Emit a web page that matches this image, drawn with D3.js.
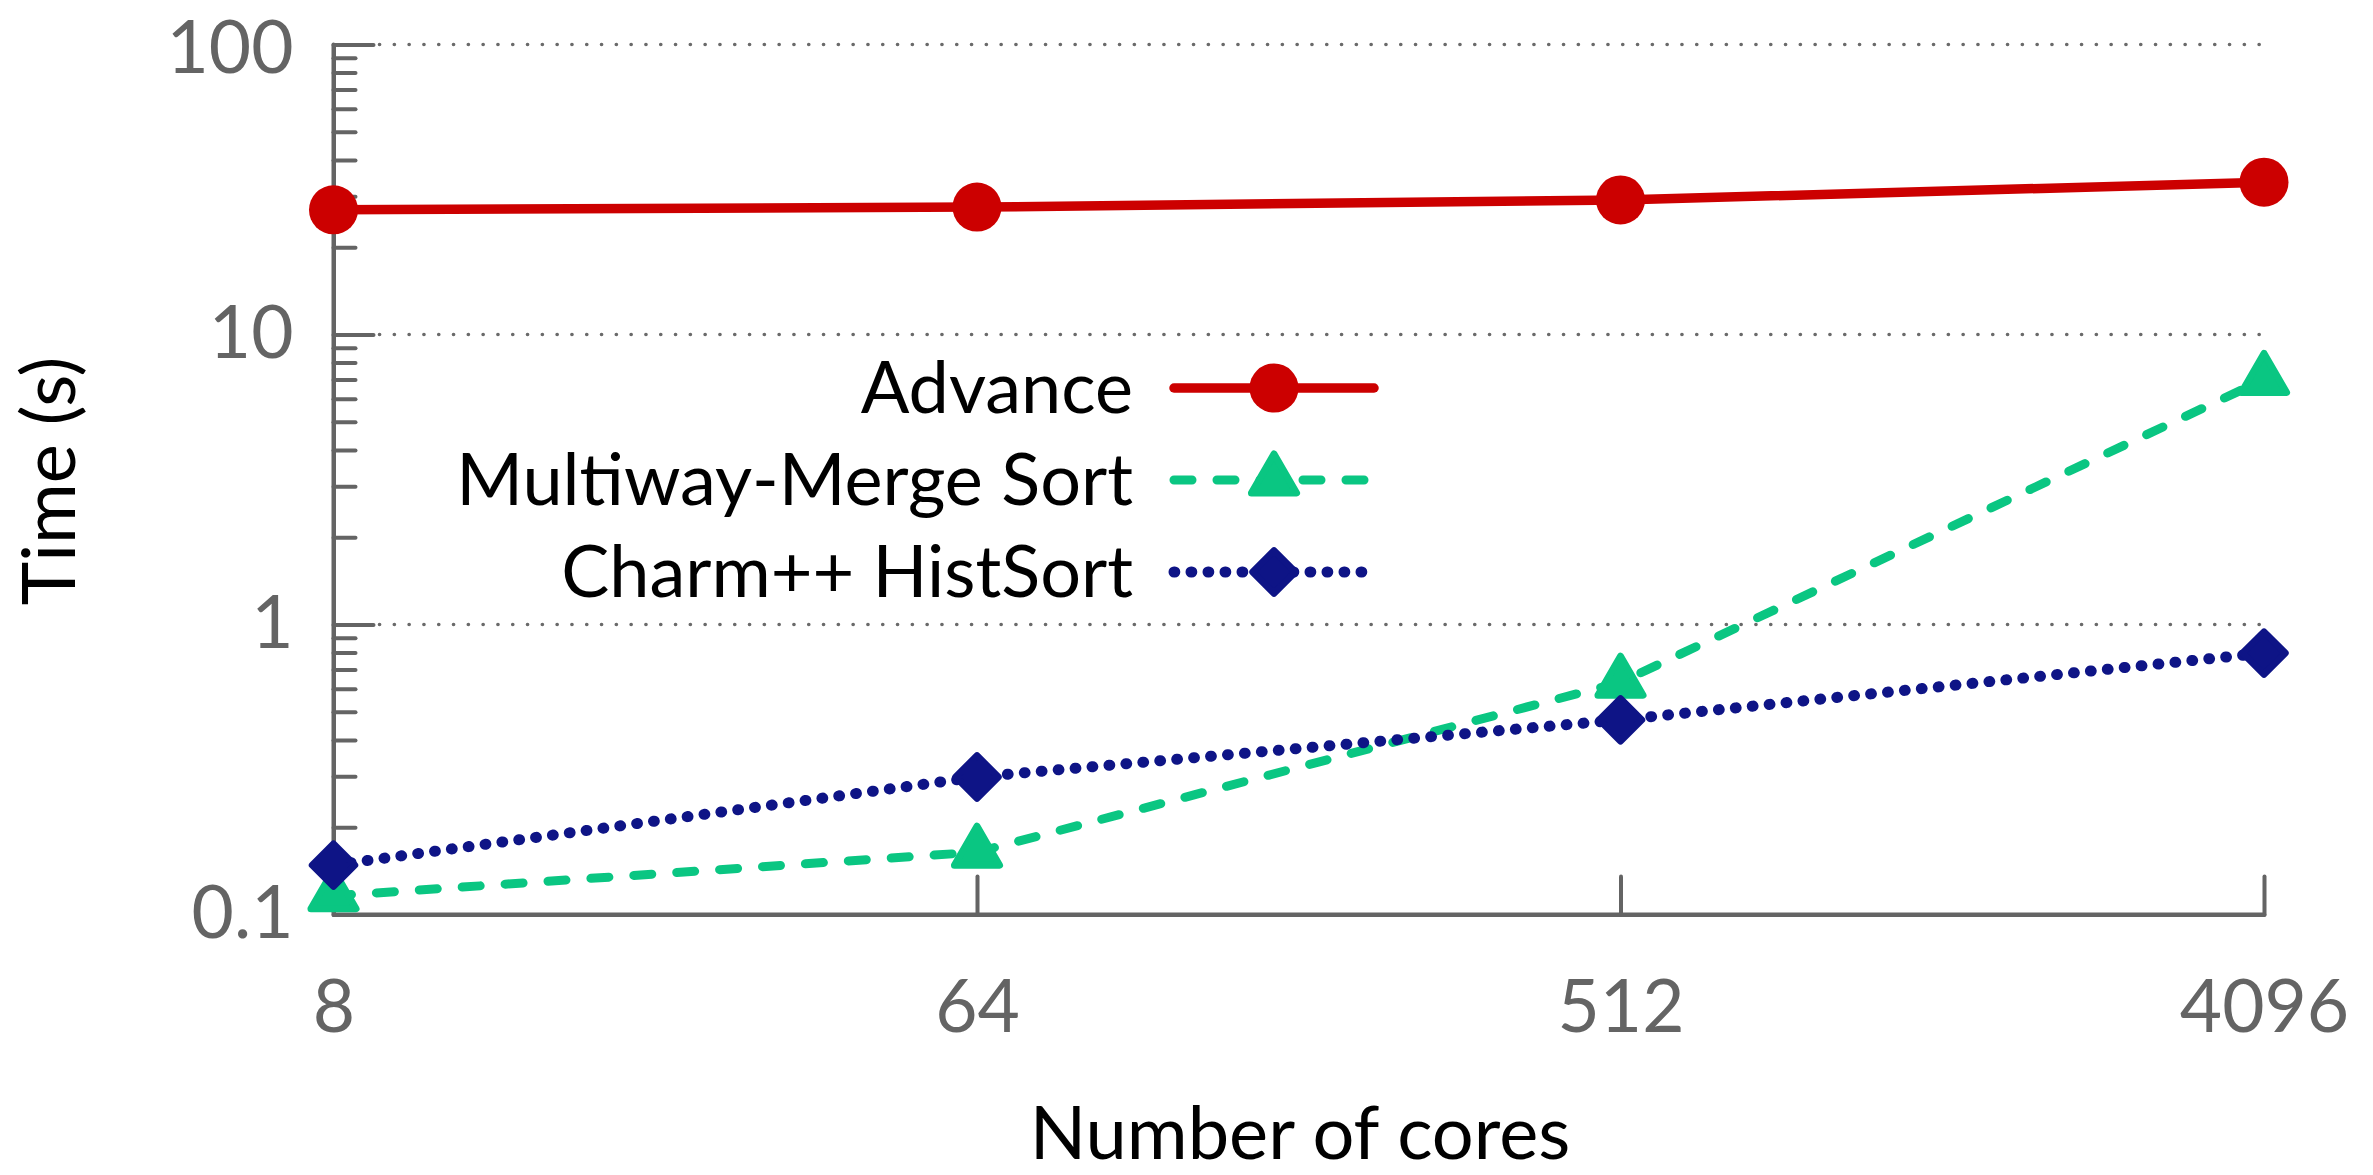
<!DOCTYPE html>
<html>
<head>
<meta charset="utf-8">
<script src="https://cdn.jsdelivr.net/npm/d3@7"></script>
<style>
  html, body { margin: 0; padding: 0; background: #fff; }
  svg { display: block; }
  text { font-family: Lato, "Open Sans", sans-serif; }
</style>
</head>
<body>
<svg id="chart" width="2373" height="1175"></svg>
<script>
// ---- data ----
const cores = [8, 64, 512, 4096];
const advance = [26.9, 27.5, 29.1, 33.5];
const multiwayMerge = [0.116, 0.164, 0.632, 7.0];
const charmHistSort = [0.148, 0.298, 0.469, 0.797];
const seriesNames = ["Advance", "Multiway-Merge Sort", "Charm++ HistSort"];
const yTickValues = [0.1, 1, 10, 100];
const yTickLabels = ["0.1", "1", "10", "100"];
const xTickLabels = ["8", "64", "512", "4096"];
const xTitle = "Number of cores";
const yTitle = "Time (s)";

// ---- layout ----
const L = 333.5, R = 2264, T = 44.5, B = 914.5;
const axisColor = "#646464";
const fontSize = 73;

const svg = d3.select("#chart");

const x = d3.scaleLog().base(2).domain([8, 4096]).range([L, R]);
const y = d3.scaleLog().base(10).domain([0.1, 100]).range([B, T]);

// grid
svg.append("g").selectAll("line").data(yTickValues.slice(1)).join("line")
  .attr("x1", L + 46).attr("x2", R)
  .attr("y1", d => y(d)).attr("y2", d => y(d))
  .attr("stroke", "#6a6a6a").attr("stroke-width", 3.6)
  .attr("stroke-linecap", "round")
  .attr("stroke-dasharray", "0.1,14.7");

// minor y ticks
const minorVals = [];
[0.1, 1, 10].forEach(dec => { for (let k = 2; k <= 9; k++) minorVals.push(+(dec * k).toPrecision(3)); });
const yMinor = svg.append("g").attr("transform", `translate(${L},0)`)
  .call(d3.axisLeft(y).tickValues(minorVals).tickSize(-22).tickSizeOuter(0).tickFormat(""));
yMinor.select(".domain").remove();

// major y axis
const yAxis = svg.append("g").attr("transform", `translate(${L},0)`)
  .call(d3.axisLeft(y).tickValues(yTickValues).tickSize(-40).tickSizeOuter(0).tickPadding(40)
    .tickFormat((d, i) => yTickLabels[i]));

// x axis
const xAxis = svg.append("g").attr("transform", `translate(0,${B})`)
  .call(d3.axisBottom(x).tickValues(cores).tickSize(-38).tickSizeOuter(0).tickPadding(66)
    .tickFormat((d, i) => xTickLabels[i]));

[yMinor, yAxis, xAxis].forEach(g => {
  g.selectAll("line").attr("stroke", axisColor).attr("stroke-width", 4).attr("stroke-linecap", "round");
  g.select(".domain").attr("stroke", axisColor).attr("stroke-width", 4).attr("stroke-linecap", "round").attr("fill", "none");
  g.selectAll("text").attr("fill", axisColor).attr("font-size", fontSize).style("font-family", "Lato, 'Open Sans', sans-serif");
});
// keep the top label inside the picture
yAxis.selectAll(".tick text").filter(d => d === 100).attr("dy", "0.39em");

// continuous L-shaped frame
svg.append("path")
  .attr("d", `M${L},${T}V${B}H${R}`)
  .attr("fill", "none").attr("stroke", axisColor).attr("stroke-width", 4)
  .attr("stroke-linejoin", "round").attr("stroke-linecap", "round");

// titles
svg.append("text").attr("x", 1300).attr("y", 1159).attr("text-anchor", "middle")
  .attr("font-size", 74).attr("fill", "#000").text(xTitle);
svg.append("text").attr("transform", "translate(75,481) rotate(-90)").attr("text-anchor", "middle")
  .attr("font-size", 74).attr("fill", "#000").text(yTitle);

// series
const series = [
  { name: seriesNames[0], values: advance, color: "#cc0000", dash: null, width: 9.5, cap: "butt", symbol: d3.symbolCircle, size: Math.PI * 24.5 * 24.5, stroke: 0, rot: 0 },
  { name: seriesNames[1], values: multiwayMerge, color: "#0ac682", dash: "18,25", width: 9, cap: "round", symbol: d3.symbolTriangle, size: 880, stroke: 7, rot: 0 },
  { name: seriesNames[2], values: charmHistSort, color: "#0e1486", dash: "0.8,16.2", width: 11, cap: "round", symbol: d3.symbolSquare, size: 900, stroke: 7, rot: 45 }
];

const line = d3.line().x(d => x(d[0])).y(d => y(d[1]));

series.forEach(s => {
  const pts = cores.map((c, i) => [c, s.values[i]]);
  const g = svg.append("g");
  g.append("path").attr("d", line(pts)).attr("fill", "none")
    .attr("stroke", s.color).attr("stroke-width", s.width)
    .attr("stroke-linecap", s.cap).attr("stroke-linejoin", "round")
    .attr("stroke-dasharray", s.dash);
  g.selectAll("path.pt").data(pts).join("path").attr("class", "pt")
    .attr("transform", d => `translate(${x(d[0])},${y(d[1])}) rotate(${s.rot})`)
    .attr("d", d3.symbol().type(s.symbol).size(s.size))
    .attr("fill", s.color).attr("stroke", s.color).attr("stroke-width", s.stroke)
    .attr("stroke-linejoin", "round");
});

// legend
const legY = [388, 480, 572];
const legTextX = 1133, legX1 = 1174, legX2 = 1374, legMark = 1274;
series.forEach((s, i) => {
  const g = svg.append("g");
  g.append("text").attr("x", legTextX).attr("y", legY[i]).attr("dy", "0.35em")
    .attr("text-anchor", "end").attr("font-size", 72).attr("fill", "#000").text(s.name);
  g.append("line").attr("x1", legX1).attr("x2", legX2).attr("y1", legY[i]).attr("y2", legY[i])
    .attr("stroke", s.color).attr("stroke-width", s.width).attr("stroke-linecap", "round")
    .attr("stroke-dasharray", s.dash);
  g.append("path").attr("transform", `translate(${legMark},${legY[i]}) rotate(${s.rot})`)
    .attr("d", d3.symbol().type(s.symbol).size(s.size))
    .attr("fill", s.color).attr("stroke", s.color).attr("stroke-width", s.stroke)
    .attr("stroke-linejoin", "round");
});
</script>
</body>
</html>
